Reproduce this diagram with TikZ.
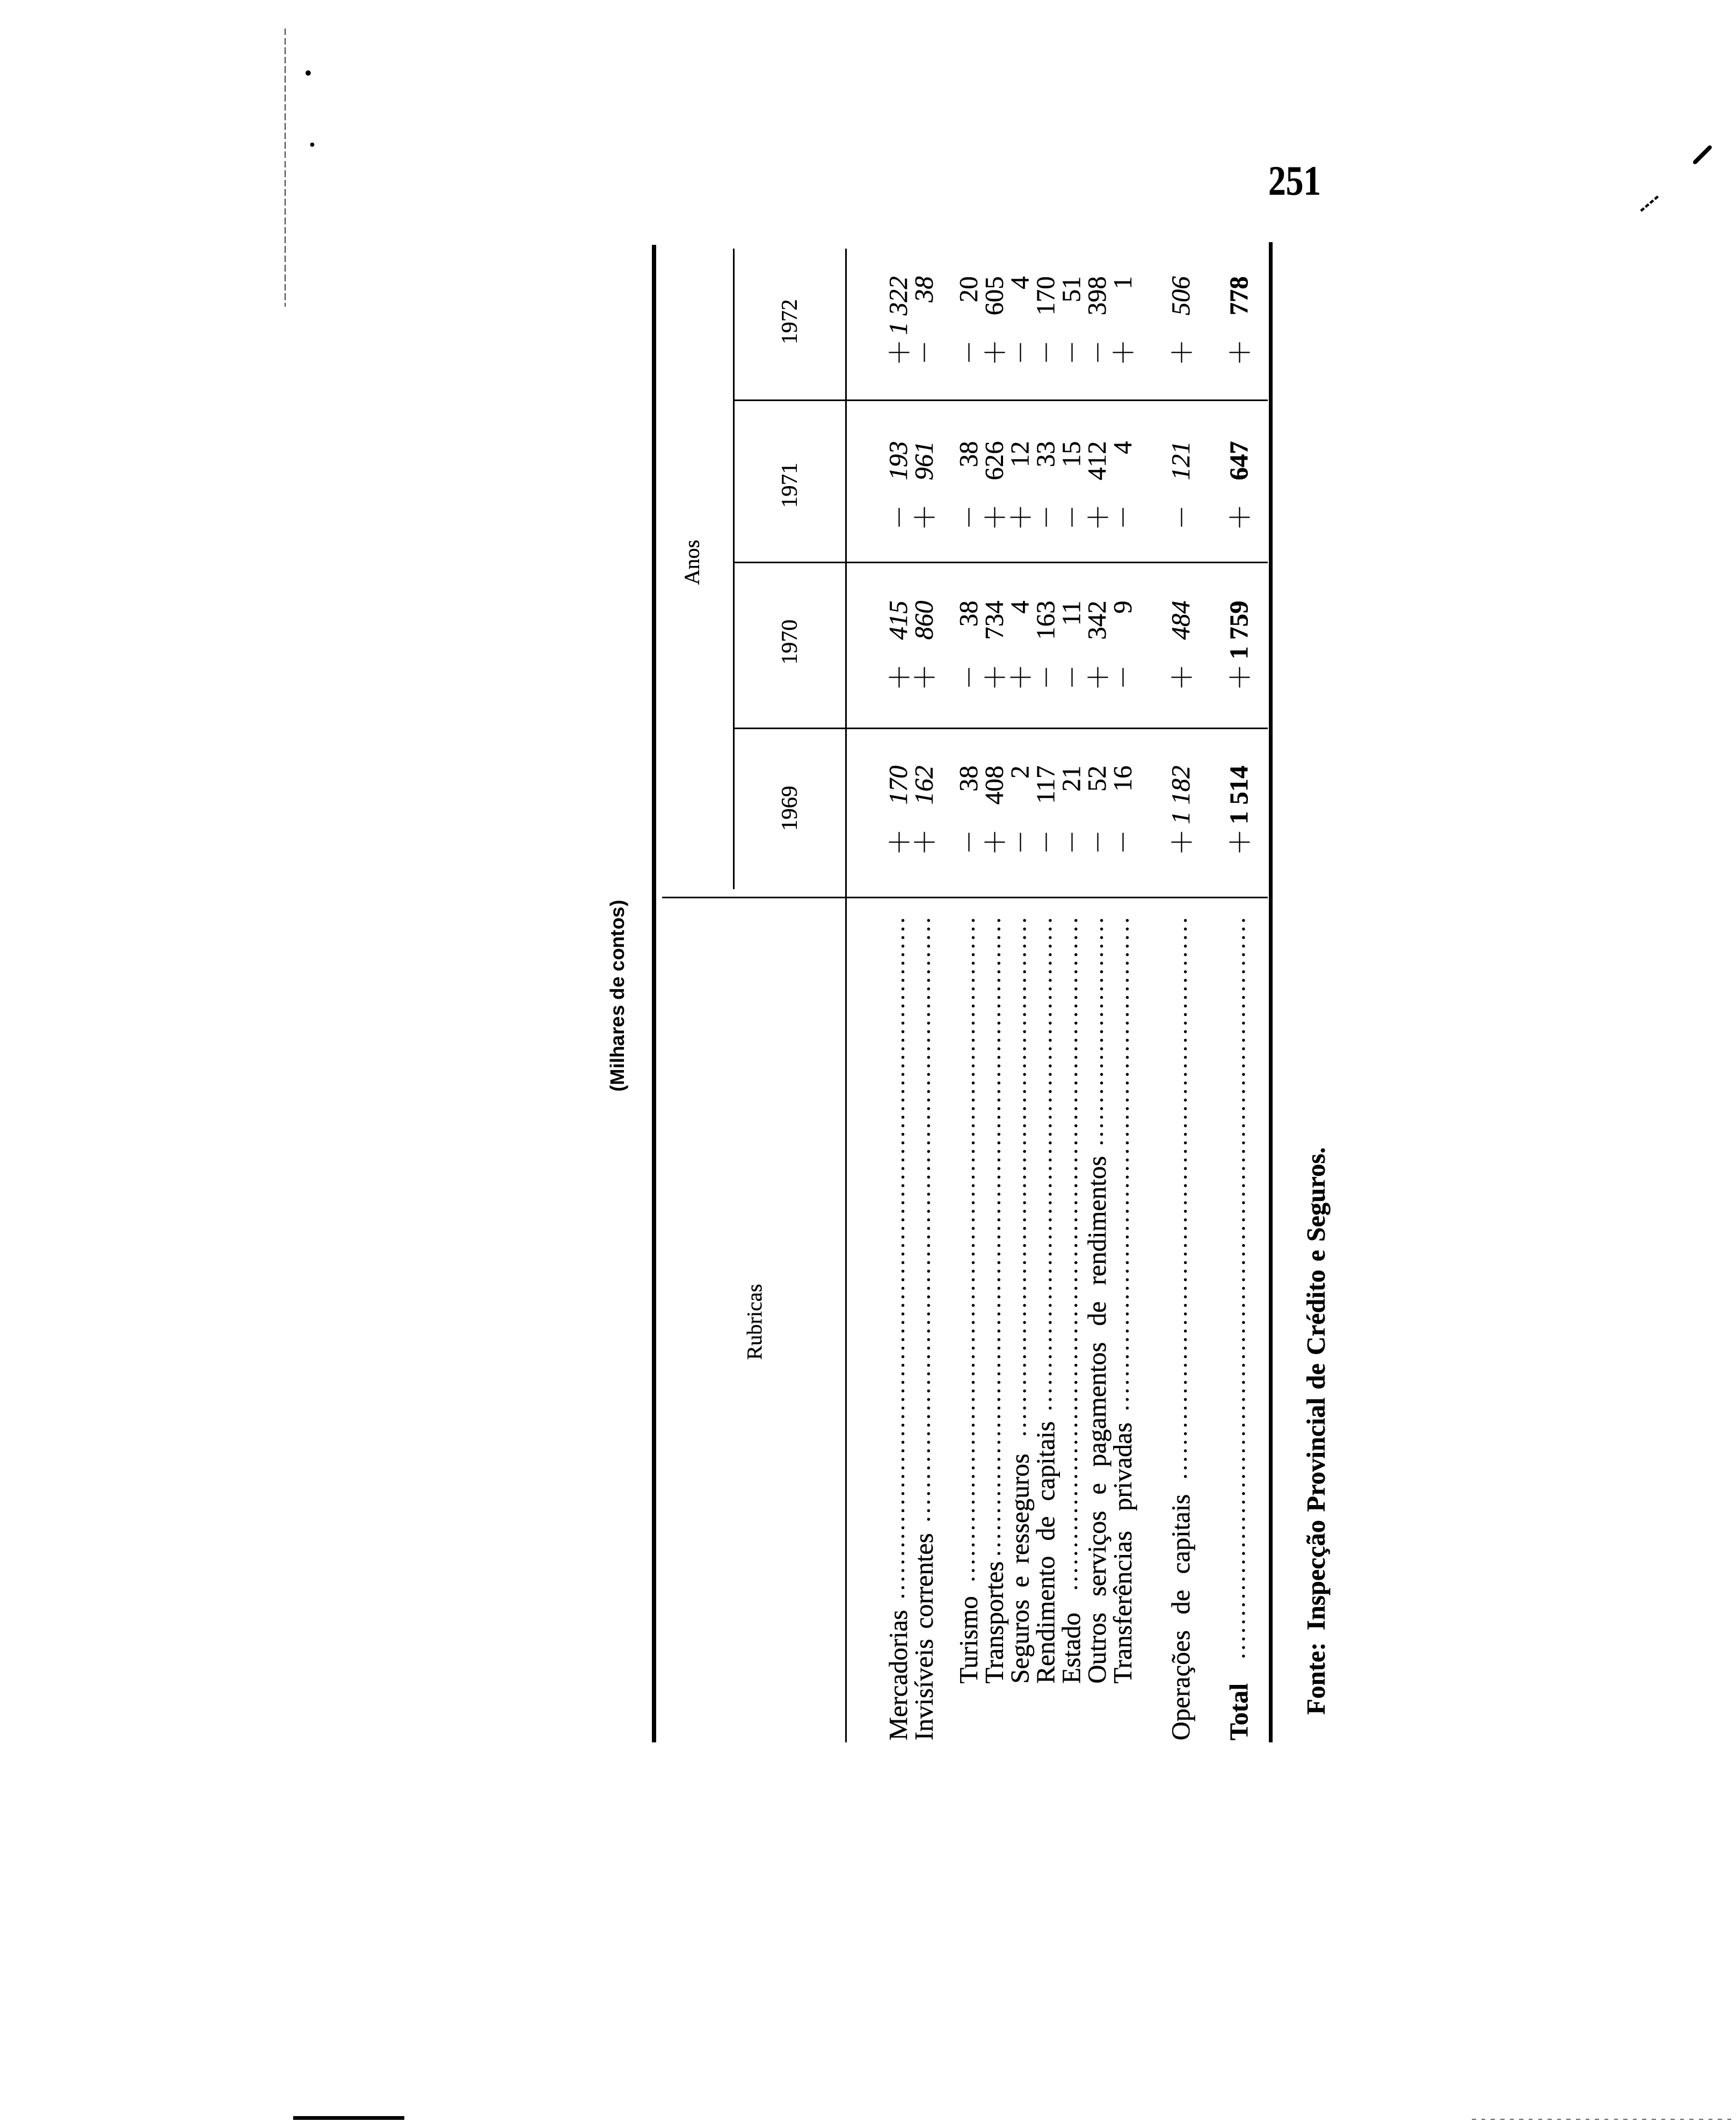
\documentclass[tikz,border=0pt]{standalone}
\usepackage{fontspec}
\setmainfont{Liberation Serif}[FakeBold=0.4]
\newfontfamily\unitsfont{Liberation Sans}
\usetikzlibrary{calc}

\newcommand{\numsp}{\hspace{0.25em}}
\newcommand{\labbox}[2]{\makebox[#1][s]{#2}}
\newcommand{\sgn}[1]{\scalebox{1.2}{$#1$}}
\newcommand{\ncell}[2]{\makebox[0pt]{\sgn{#1}}\makebox[32.3pt][r]{#2}}
\newcommand{\rowfont}{\fontsize{11}{13}\selectfont}
\newcommand{\numfont}{\fontsize{11}{13}\selectfont}

\begin{document}
\begin{tikzpicture}[x=0.02cm, y=-0.02cm, inner sep=0pt,
  toprule/.style={line width=0.064cm},
  botrule/.style={line width=0.056cm},
  thinrule/.style={line width=0.025cm},
  lab/.style={rotate=90, anchor=base west, font=\rowfont},
  num/.style={rotate=90, anchor=base east, font=\numfont},
  numit/.style={num, font=\numfont\itshape},
  numbf/.style={num, font=\numfont\bfseries},
  head/.style={rotate=90, font=\fontsize{9}{11}\selectfont},
  year/.style={rotate=90, font=\fontsize{9.5}{11}\selectfont},
  leader/.style={line width=0.045cm, line cap=round, dash pattern=on 0pt off 0.1266cm}]
  \fill[white] (0,0) rectangle (1284,1570);
  \useasboundingbox (0,0) rectangle (1284,1570);

  % page number and scan marks
  \node (pg) at (938,144) [anchor=base west, font=\bfseries\fontsize{17.6}{20}\selectfont] {\scalebox{0.84}[1]{251}};
  \draw[line width=0.06cm, line cap=round] (1254,120) -- (1265,109);
  \draw[line width=0.035cm, dash pattern=on 0.06cm off 0.03cm] (1214,156) -- (1227,145);
  \draw[line width=0.02cm, dash pattern=on 0.1cm off 0.04cm, black!75] (211,21) -- (211,227);
  \fill (228,54) circle (2);
  \fill (231,107) circle (1.6);
  \draw[line width=0.05cm] (217,1567) -- (299,1567);
  \draw[line width=0.02cm, dash pattern=on 0.06cm off 0.08cm, black!60] (1089,1568) -- (1284,1568);

  % rules
  \draw[toprule] (484,181) -- (484,1289);
  \draw[botrule] (940,179) -- (940,1289);
  \draw[thinrule] (543,184) -- (543,658);
  \draw[thinrule] (626,184) -- (626,1289);
  \draw[thinrule] (543,296) -- (938,296);
  \draw[thinrule] (543,416) -- (938,416);
  \draw[thinrule] (543,539) -- (938,539);
  \draw[thinrule] (490,664) -- (938,664);

  % headings
  \node (units) at (458,737) [rotate=90, font=\unitsfont\bfseries\fontsize{8.3}{10}\selectfont] {(Milhares de contos)};
  \node (anos) at (512,416) [head] {Anos};
  \node (rubr) at (558,978) [head] {Rubricas};
  \node (y72) at (584,238) [year] {1972};
  \node (y71) at (584,359) [year] {1971};
  \node (y70) at (584,475) [year] {1970};
  \node (y69) at (584,598) [year] {1969};

  % rubricas
  \node (merc) at (671,1288) [lab] {Mercadorias};
  \node (invis) at (690,1288) [lab] {\labbox{87.3pt}{Invisíveis correntes}};
  \node (tur) at (723,1246) [lab] {Turismo};
  \node (transp) at (742,1246) [lab] {Transportes};
  \node (seg) at (761,1246) [lab] {\labbox{96.9pt}{Seguros e resseguros}};
  \node (rend) at (780,1246) [lab] {\labbox{110.5pt}{Rendimento de capitais}};
  \node (est) at (799,1246) [lab] {Estado};
  \node (outros) at (818,1246) [lab] {\labbox{222.2pt}{Outros serviços e pagamentos de rendimentos}};
  \node (transf) at (837,1246) [lab] {\labbox{110pt}{Transferências privadas}};
  \node (oper) at (880,1288) [lab] {\labbox{103.7pt}{Operações de capitais}};
  \node (total) at (923,1288) [lab, font=\rowfont\bfseries] {Total};

  \coordinate (ldtop) at (0,681);
  \draw[leader] ($(merc.base east |- ldtop)+(-3,0)$) -- ($(merc.base east)+(-3,-6)$);
  \draw[leader] ($(invis.base east |- ldtop)+(-3,0)$) -- ($(invis.base east)+(-3,-6)$);
  \draw[leader] ($(tur.base east |- ldtop)+(-3,0)$) -- ($(tur.base east)+(-3,-6)$);
  \draw[leader] ($(transp.base east |- ldtop)+(-3,0)$) -- ($(transp.base east)+(-3,-2)$);
  \draw[leader] ($(seg.base east |- ldtop)+(-3,0)$) -- ($(seg.base east)+(-3,-8)$);
  \draw[leader] ($(rend.base east |- ldtop)+(-3,0)$) -- ($(rend.base east)+(-3,-8)$);
  \draw[leader] ($(est.base east |- ldtop)+(-3,0)$) -- ($(est.base east)+(-3,-12)$);
  \draw[leader] ($(outros.base east |- ldtop)+(-3,0)$) -- ($(outros.base east)+(-3,-6)$);
  \draw[leader] ($(transf.base east |- ldtop)+(-3,0)$) -- ($(transf.base east)+(-3,-6)$);
  \draw[leader] ($(oper.base east |- ldtop)+(-3,0)$) -- ($(oper.base east)+(-3,-7)$);
  \draw[leader] ($(total.base east |- ldtop)+(-3,0)$) -- ($(total.base east)+(-3,-16)$);

  % 1969
  \node (merc69) at (671,566) [numit] {\ncell{+}{170}};
  \node (invis69) at (690,566) [numit] {\ncell{+}{162}};
  \node (tur69) at (723,566) [num] {\ncell{-}{38}};
  \node (transp69) at (742,566) [num] {\ncell{+}{408}};
  \node (seg69) at (761,566) [num] {\ncell{-}{2}};
  \node (rend69) at (780,566) [num] {\ncell{-}{117}};
  \node (est69) at (799,566) [num] {\ncell{-}{21}};
  \node (outros69) at (818,566) [num] {\ncell{-}{52}};
  \node (transf69) at (837,566) [num] {\ncell{-}{16}};
  \node (oper69) at (880,566) [numit] {\ncell{+}{1\numsp182}};
  \node (total69) at (923,566) [numbf] {\ncell{+}{1\numsp514}};

  % 1970
  \node (merc70) at (671,444) [numit] {\ncell{+}{415}};
  \node (invis70) at (690,444) [numit] {\ncell{+}{860}};
  \node (tur70) at (723,444) [num] {\ncell{-}{38}};
  \node (transp70) at (742,444) [num] {\ncell{+}{734}};
  \node (seg70) at (761,444) [num] {\ncell{+}{4}};
  \node (rend70) at (780,444) [num] {\ncell{-}{163}};
  \node (est70) at (799,444) [num] {\ncell{-}{11}};
  \node (outros70) at (818,444) [num] {\ncell{+}{342}};
  \node (transf70) at (837,444) [num] {\ncell{-}{9}};
  \node (oper70) at (880,444) [numit] {\ncell{+}{484}};
  \node (total70) at (923,444) [numbf] {\ncell{+}{1\numsp759}};

  % 1971
  \node (merc71) at (671,326) [numit] {\ncell{-}{193}};
  \node (invis71) at (690,326) [numit] {\ncell{+}{961}};
  \node (tur71) at (723,326) [num] {\ncell{-}{38}};
  \node (transp71) at (742,326) [num] {\ncell{+}{626}};
  \node (seg71) at (761,326) [num] {\ncell{+}{12}};
  \node (rend71) at (780,326) [num] {\ncell{-}{33}};
  \node (est71) at (799,326) [num] {\ncell{-}{15}};
  \node (outros71) at (818,326) [num] {\ncell{+}{412}};
  \node (transf71) at (837,326) [num] {\ncell{-}{4}};
  \node (oper71) at (880,326) [numit] {\ncell{-}{121}};
  \node (total71) at (923,326) [numbf] {\ncell{+}{647}};

  % 1972
  \node (merc72) at (671,204) [numit] {\ncell{+}{1\numsp322}};
  \node (invis72) at (690,204) [numit] {\ncell{-}{38}};
  \node (tur72) at (723,204) [num] {\ncell{-}{20}};
  \node (transp72) at (742,204) [num] {\ncell{+}{605}};
  \node (seg72) at (761,204) [num] {\ncell{-}{4}};
  \node (rend72) at (780,204) [num] {\ncell{-}{170}};
  \node (est72) at (799,204) [num] {\ncell{-}{51}};
  \node (outros72) at (818,204) [num] {\ncell{-}{398}};
  \node (transf72) at (837,204) [num] {\ncell{+}{1}};
  \node (oper72) at (880,204) [numit] {\ncell{+}{506}};
  \node (total72) at (923,204) [numbf] {\ncell{+}{778}};

  \node (fonte) at (980,1269) [lab, font=\bfseries\fontsize{11}{13}\selectfont] {\labbox{239pt}{Fonte: Inspecção Provincial de Crédito e Seguros.}};
\end{tikzpicture}
\end{document}
